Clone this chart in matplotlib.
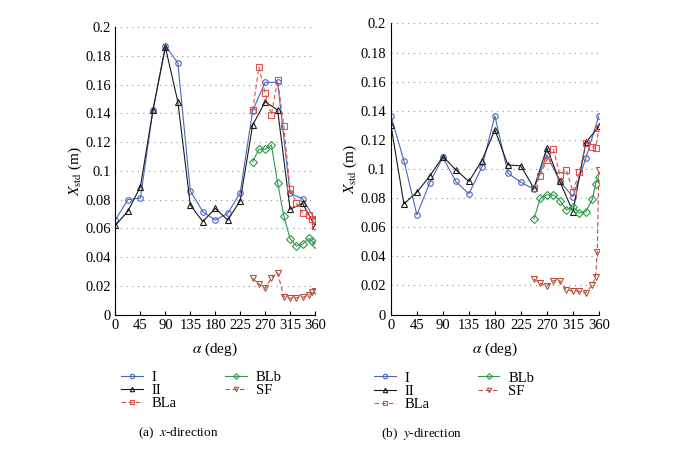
import numpy as np
import matplotlib.pyplot as plt

plt.rcParams['font.family'] = 'Liberation Serif'
plt.rcParams['mathtext.fontset'] = 'stix'

# kąty dla serii I i II (co 22.5 deg)
alpha_main = [0, 22.5, 45, 67.5, 90, 112.5, 135, 157.5, 180, 202.5, 225,
              247.5, 270, 292.5, 315, 337.5, 360]
# kąty dla serii BLa, BLb, SF (co 11.25 deg + dodatkowe przy 360)
alpha_bl = [247.5, 258.75, 270, 281.25, 292.5, 303.75, 315, 326.25, 337.5,
            348.75, 354.4, 360]
alpha_sf_y = [247.5, 258.75, 270, 281.25, 292.5, 303.75, 315, 326.25, 337.5,
              348.75, 354.4, 357.2, 360]

# (a) kierunek x
x_I = [0.066, 0.080, 0.081, 0.142, 0.187, 0.175, 0.086, 0.0715, 0.0657, 0.0704,
       0.0847, 0.1418, 0.1615, 0.1615, 0.0843, 0.0805, 0.066]
x_II = [0.062, 0.072, 0.089, 0.142, 0.186, 0.148, 0.0762, 0.0646, 0.0739, 0.0657,
        0.0792, 0.1318, 0.148, 0.1423, 0.0732, 0.0774, 0.0614]
x_BLa = [0.142, 0.172, 0.154, 0.139, 0.163, 0.131, 0.087, 0.0778, 0.0708, 0.0692,
         0.0664, 0.0618]
x_BLb = [0.1063, 0.115, 0.115, 0.118, 0.0917, 0.0685, 0.0527, 0.0477, 0.049,
         0.053, 0.0512, 0.049]
x_SF = [0.0252, 0.0212, 0.0182, 0.0255, 0.029, 0.0124, 0.0113, 0.0117, 0.012,
        0.0135, 0.0155, 0.0166]

# (b) kierunek y
y_I = [0.1365, 0.1058, 0.0685, 0.0907, 0.108, 0.0914, 0.0829, 0.1012, 0.1365,
       0.0971, 0.0909, 0.0861, 0.1097, 0.0914, 0.081, 0.1074, 0.1365]
y_II = [0.1303, 0.076, 0.084, 0.0953, 0.1085, 0.0994, 0.0914, 0.1058, 0.1269,
        0.1028, 0.1021, 0.0868, 0.1143, 0.0914, 0.0707, 0.1182, 0.1292]
y_BLa = [0.0868, 0.0955, 0.1063, 0.1136, 0.096, 0.0994, 0.0845, 0.0978, 0.118,
         0.1154, 0.1143, 0.128]
y_BLb = [0.0655, 0.080, 0.0822, 0.0822, 0.0783, 0.0719, 0.0742, 0.0696, 0.0707,
         0.0792, 0.090, 0.0948]
y_SF = [0.0243, 0.0215, 0.0197, 0.0233, 0.0233, 0.0169, 0.0162, 0.016, 0.015,
        0.0203, 0.026, 0.0432, 0.099]

c_I = '#4a67c0'
c_II = '#1a1a1a'
c_BLa = '#e0504a'
c_BLb = '#2f9a4a'
c_SF = '#b4513a'


def rysuj(ax, I, II, BLa, BLb, SF, alpha_sf, leg_x):
    kw = dict(lw=0.8, ms=4, mew=0.8, mfc='none')
    ax.plot(alpha_main, I, '-o', color=c_I, label='I', **kw)
    ax.plot(alpha_main, II, '-^', color=c_II, label='II', **kw)
    ax.plot(alpha_bl, BLa, '--s', color=c_BLa, label='BLa', dashes=(4, 2.5), **kw)
    ax.plot(alpha_bl, BLb, '-D', color=c_BLb, label='BLb', **dict(kw, ms=3.6))
    ax.plot(alpha_sf, SF, '--v', color=c_SF, label='SF', dashes=(4, 2.5), **kw)

    ax.set_xlim(0, 360)
    ax.set_ylim(0, 0.2)
    ax.set_xticks(np.arange(0, 361, 45))
    ax.set_yticks(np.arange(0, 0.201, 0.02))
    ax.set_yticklabels(['0', '0.02', '0.04', '0.06', '0.08', '0.1', '0.12',
                        '0.14', '0.16', '0.18', '0.2'])
    ax.tick_params(direction='in', length=3, labelsize=10.5, width=0.8)
    ax.tick_params(axis='y', length=0)
    ax.yaxis.grid(True, linestyle=(0, (1, 4)), color='#909090', lw=0.8)
    ax.spines['top'].set_visible(False)
    ax.spines['right'].set_visible(False)
    ax.set_xlabel(r'$\alpha$ (deg)', fontsize=11, labelpad=6)
    ax.set_ylabel(r'$X_{\mathrm{std}}$ (m)', fontsize=11, labelpad=1)
    leg = ax.legend(loc='upper left', bbox_to_anchor=(leg_x, -0.175), ncol=2,
                    frameon=False, fontsize=10.5, handlelength=1.5,
                    columnspacing=3.3, labelspacing=0.0, handletextpad=0.6,
                    borderaxespad=0, markerscale=0.8)
    return leg


fig = plt.figure(figsize=(6.81, 4.5), dpi=100)
ax1 = fig.add_axes([0.1696, 0.301, 0.293, 0.639])
ax2 = fig.add_axes([0.574, 0.301, 0.3054, 0.647])

rysuj(ax1, x_I, x_II, x_BLa, x_BLb, x_SF, alpha_bl, 0.0)
rysuj(ax2, y_I, y_II, y_BLa, y_BLb, y_SF, alpha_sf_y, -0.11)

fig.text(0.262, 0.03, '(a)  $x$-direction', ha='center', fontsize=9.5)
fig.text(0.619, 0.03, '(b)  $y$-direction', ha='center', fontsize=9.5)

fig.savefig('out.png', dpi=100)
